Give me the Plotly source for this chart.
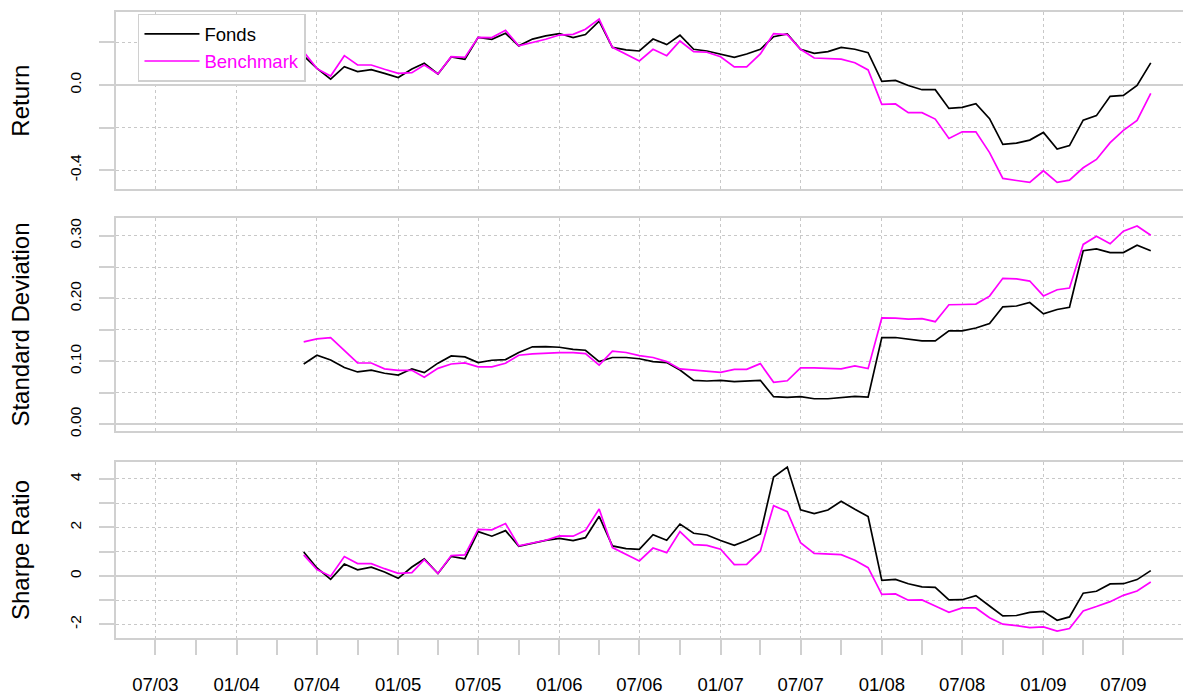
import pandas as pd
import plotly.graph_objects as go
from plotly.subplots import make_subplots

months = pd.date_range("2004-06-01", periods=64, freq="MS")

fonds_return = [0.137, 0.078, 0.028, 0.086, 0.063, 0.072, 0.055, 0.035, 0.075, 0.102, 0.052, 0.132, 0.121,
                0.224, 0.215, 0.243, 0.184, 0.216, 0.231, 0.242, 0.223, 0.237, 0.300, 0.177, 0.165, 0.160,
                0.216, 0.190, 0.234, 0.168, 0.160, 0.146, 0.130, 0.146, 0.168, 0.227, 0.240, 0.168, 0.149,
                0.157, 0.177, 0.168, 0.152, 0.017, 0.022, -0.002, -0.022, -0.022, -0.110, -0.105, -0.088,
                -0.158, -0.279, -0.273, -0.259, -0.223, -0.301, -0.285, -0.165, -0.144, -0.053, -0.049,
                -0.002, 0.104]
bench_return = [0.156, 0.077, 0.042, 0.138, 0.094, 0.094, 0.074, 0.055, 0.058, 0.094, 0.052, 0.133, 0.130,
                0.224, 0.223, 0.257, 0.184, 0.200, 0.215, 0.235, 0.238, 0.262, 0.310, 0.177, 0.146, 0.113,
                0.168, 0.138, 0.207, 0.157, 0.154, 0.133, 0.085, 0.085, 0.146, 0.242, 0.237, 0.168, 0.127,
                0.124, 0.122, 0.105, 0.071, -0.091, -0.089, -0.130, -0.130, -0.160, -0.251, -0.220, -0.220,
                -0.318, -0.439, -0.449, -0.458, -0.403, -0.458, -0.447, -0.389, -0.350, -0.271, -0.213,
                -0.166, -0.039]
fonds_std = [0.0957, 0.1096, 0.102, 0.090, 0.083, 0.086, 0.081, 0.078, 0.088, 0.082, 0.097, 0.1085, 0.107,
             0.098, 0.1016, 0.1027, 0.114, 0.123, 0.1234, 0.1223, 0.119, 0.1176, 0.0995, 0.106, 0.106, 0.104,
             0.0995, 0.098, 0.086, 0.0697, 0.0686, 0.0697, 0.0676, 0.0686, 0.0697, 0.0436, 0.0426, 0.0436,
             0.0404, 0.0404, 0.042, 0.0441, 0.043, 0.1378, 0.1378, 0.1356, 0.1324, 0.1324, 0.1484, 0.1484,
             0.153, 0.160, 0.1867, 0.188, 0.1936, 0.1755, 0.1824, 0.186, 0.276, 0.279, 0.273, 0.273,
             0.2846, 0.276]
bench_std = [0.131, 0.1356, 0.1378, 0.117, 0.0973, 0.0973, 0.088, 0.0856, 0.0856, 0.0745, 0.0888, 0.0957,
             0.0973, 0.091, 0.091, 0.0968, 0.1096, 0.1117, 0.1133, 0.1138, 0.1138, 0.1122, 0.094, 0.116,
             0.114, 0.109, 0.106, 0.0995, 0.0878, 0.086, 0.0846, 0.0824, 0.0872, 0.0872, 0.0963, 0.0665,
             0.069, 0.0894, 0.0894, 0.0888, 0.0878, 0.0926, 0.0883, 0.169, 0.1686, 0.167, 0.168, 0.163,
             0.190, 0.1904, 0.191, 0.2037, 0.232, 0.231, 0.2277, 0.204, 0.2138, 0.2165, 0.286, 0.299,
             0.287, 0.307, 0.3154, 0.3005]
fonds_sharpe = [0.99, 0.33, -0.14, 0.49, 0.25, 0.36, 0.16, -0.10, 0.37, 0.70, 0.10, 0.81, 0.71, 1.83, 1.64,
                1.87, 1.22, 1.36, 1.47, 1.55, 1.46, 1.58, 2.46, 1.24, 1.13, 1.10, 1.70, 1.47, 2.14, 1.76,
                1.69, 1.46, 1.26, 1.46, 1.73, 4.08, 4.49, 2.73, 2.57, 2.72, 3.08, 2.75, 2.45, -0.18, -0.14,
                -0.32, -0.45, -0.47, -0.99, -0.98, -0.81, -1.24, -1.65, -1.63, -1.50, -1.46, -1.83, -1.69,
                -0.71, -0.63, -0.33, -0.32, -0.15, 0.22]
bench_sharpe = [0.87, 0.26, -0.01, 0.80, 0.51, 0.51, 0.30, 0.11, 0.14, 0.67, 0.10, 0.84, 0.87, 1.92, 1.90,
                2.16, 1.24, 1.37, 1.47, 1.65, 1.64, 1.88, 2.76, 1.17, 0.89, 0.62, 1.15, 0.96, 1.83, 1.29,
                1.26, 1.10, 0.47, 0.48, 1.03, 2.90, 2.65, 1.37, 0.93, 0.91, 0.88, 0.65, 0.34, -0.76, -0.74,
                -1.00, -0.99, -1.24, -1.50, -1.32, -1.32, -1.72, -1.99, -2.05, -2.13, -2.10, -2.27, -2.17,
                -1.44, -1.26, -1.06, -0.80, -0.62, -0.25]

x_tick_dates = ["2003-07-01", "2004-01-01", "2004-07-01", "2005-01-01", "2005-07-01", "2006-01-01",
                "2006-07-01", "2007-01-01", "2007-07-01", "2008-01-01", "2008-07-01", "2009-01-01",
                "2009-07-01"]
x_tick_labels = ["07/03", "01/04", "07/04", "01/05", "07/05", "01/06", "07/06", "01/07", "07/07",
                 "01/08", "07/08", "01/09", "07/09"]
x_minor_dates = ["2003-10-01", "2004-04-01", "2004-10-01", "2005-04-01", "2005-10-01", "2006-04-01",
                 "2006-10-01", "2007-04-01", "2007-10-01", "2008-04-01", "2008-10-01", "2009-04-01"]

ret_ticks = [0.2, 0.0, -0.2, -0.4]
ret_labels = ["", "0.0", "", "-0.4"]
std_ticks = [0.0, 0.05, 0.10, 0.15, 0.20, 0.25, 0.30]
std_labels = ["0.00", "", "0.10", "", "0.20", "", "0.30"]
sr_ticks = [4, 3, 2, 1, 0, -1, -2]
sr_labels = ["4", "", "2", "", "0", "", "-2"]

FONT = "Liberation Sans, Arial, Helvetica, sans-serif"
BLACK = "#000000"
MAGENTA = "#FF00FF"
GRID = "#c8c8c8"
BOX = "#d0d0d0"

fig = make_subplots(rows=3, cols=1, shared_xaxes=True)

panels = [
    (1, fonds_return, bench_return),
    (2, fonds_std, bench_std),
    (3, fonds_sharpe, bench_sharpe),
]
for row, f, b in panels:
    fig.add_trace(go.Scatter(x=months, y=f, mode="lines", name="Fonds",
                             line=dict(color=BLACK, width=1.7), showlegend=(row == 1)), row=row, col=1)
    fig.add_trace(go.Scatter(x=months, y=b, mode="lines",
                             name="<span style='color:#FF00FF'>Benchmark</span>",
                             line=dict(color=MAGENTA, width=1.7), showlegend=(row == 1)), row=row, col=1)

x_range = ["2003-04-03", "2009-11-13"]
domains_y = [[0.7288, 0.9824], [0.3816, 0.6872], [0.0846, 0.3372]]
y_ranges = [[-0.489, 0.342], [-0.011, 0.328], [-2.56, 4.70]]
y_titles = ["Return", "Standard Deviation", "Sharpe Ratio"]
y_ticks = [(ret_ticks, ret_labels), (std_ticks, std_labels), (sr_ticks, sr_labels)]

for i in range(3):
    xa = "xaxis" if i == 0 else f"xaxis{i+1}"
    ya = "yaxis" if i == 0 else f"yaxis{i+1}"
    xdict = dict(range=x_range, domain=[0, 1], tickmode="array", tickvals=x_tick_dates,
                 ticktext=x_tick_labels, showgrid=True, gridcolor=GRID, griddash="dot", gridwidth=1,
                 showline=True, mirror=True, linecolor=BOX, linewidth=1.5, zeroline=False,
                 automargin=False)
    if i < 2:
        xdict.update(showticklabels=False, ticks="")
    else:
        xdict.update(showticklabels=True, ticks="outside", ticklen=15, tickcolor=BOX, tickwidth=1.5,
                     ticklabelstandoff=14,
                     tickfont=dict(family=FONT, size=18.5, color="black"),
                     minor=dict(tickmode="array", tickvals=x_minor_dates, ticks="outside",
                                ticklen=15, tickcolor=BOX, tickwidth=1.5, showgrid=False))
    fig.layout[xa].update(xdict)
    tv, tt = y_ticks[i]
    fig.layout[ya].update(dict(
        domain=domains_y[i], range=y_ranges[i], tickmode="array", tickvals=tv, ticktext=tt,
        ticks="outside", ticklen=15, tickcolor=BOX, tickwidth=1.5, tickangle=-90,
        ticklabelstandoff=12,
        tickfont=dict(family=FONT, size=15.5, color="black"),
        showgrid=True, gridcolor=GRID, griddash="dot", gridwidth=1,
        zeroline=True, zerolinecolor=BOX, zerolinewidth=1.5,
        showline=True, mirror=False, linecolor=BOX, linewidth=1.5, automargin=False,
        title=dict(text=y_titles[i], font=dict(family=FONT, size=24, color="black"), standoff=31),
    ))

fig.update_layout(
    width=1183, height=697,
    margin=dict(l=116, r=0, t=0, b=0),
    paper_bgcolor="white", plot_bgcolor="white",
    font=dict(family=FONT, size=19, color="black"),
    legend=dict(x=0.0206, y=0.98, xanchor="left", yanchor="top", bgcolor="white",
                bordercolor=BOX, borderwidth=1.5, font=dict(family=FONT, size=18.5, color="black"),
                tracegroupgap=0, itemwidth=55),
    showlegend=True,
)

fig.write_html("out.html", config={"displayModeBar": False},
               post_script="document.body.style.margin='0px';")
